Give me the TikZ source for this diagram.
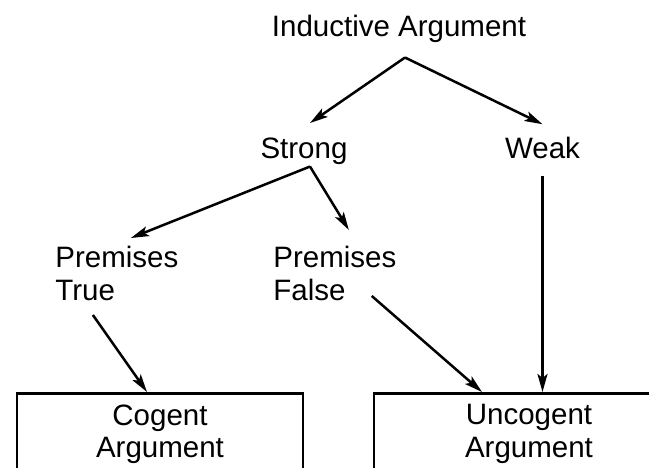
\documentclass[tikz,border=0pt]{standalone}
\usepackage{fontspec}
\setmainfont{Liberation Sans}
\usetikzlibrary{arrows.meta}
\begin{document}
\begin{tikzpicture}[x=0.5pt,y=-0.5pt,
        lbl/.style={inner sep=0pt,align=left,font=\fontsize{14.75}{16.25}\selectfont},
        argbox/.style={draw,line width=1.4pt,inner ysep=5.5pt,align=center,anchor=north,font=\fontsize{14.75}{16.25}\selectfont},
        link/.style={line width=1.25pt,-{Stealth[length=9pt,width=5pt,inset=2pt]}}]
        \clip (0,0) rectangle (649,467);
        \node[lbl,anchor=base] (ind) at (399,36) {Inductive Argument};
        \node[lbl,anchor=base] (strong) at (304,158) {Strong};
        \node[lbl,anchor=base] (weak) at (542.5,158) {Weak};
        \node[lbl,anchor=north west] (ptrue) at (55,246) {Premises\\True};
        \node[lbl,anchor=north west] (pfalse) at (273,246) {Premises\\False};
        \node[argbox,minimum width=143pt] (cogent) at (160,392) {Cogent\\Argument};
        \node[argbox,minimum width=155pt] (uncogent) at (529,392) {Uncogent\\Argument};

        \coordinate (indtop) at ([xshift=3pt,yshift=-7.5pt]ind.south);
        \coordinate (strongtop) at ([xshift=3pt,yshift=-1pt]strong.south);
        \coordinate (weakend) at ([yshift=-8.5pt]weak.south);

        \draw[link] (indtop) -- ([xshift=3pt,yshift=7pt]strong.north);
        \draw[link] (indtop) -- ([yshift=6pt]weak.north);
        \draw[link] (strongtop) -- ([xshift=7pt,yshift=4pt]ptrue.north);
        \draw[link] (strongtop) -- ([xshift=7pt,yshift=8pt]pfalse.north);
        \draw[link] ([xshift=-12pt,yshift=-7pt]ptrue.south) -- ([xshift=-6.5pt]cogent.north);
        \draw[link] ([xshift=-12.5pt,yshift=2.5pt]pfalse.south east) -- ([xshift=-23.5pt]uncogent.north);
        \draw[link] (weakend) -- (weakend |- uncogent.north);
      \end{tikzpicture}
\end{document}
